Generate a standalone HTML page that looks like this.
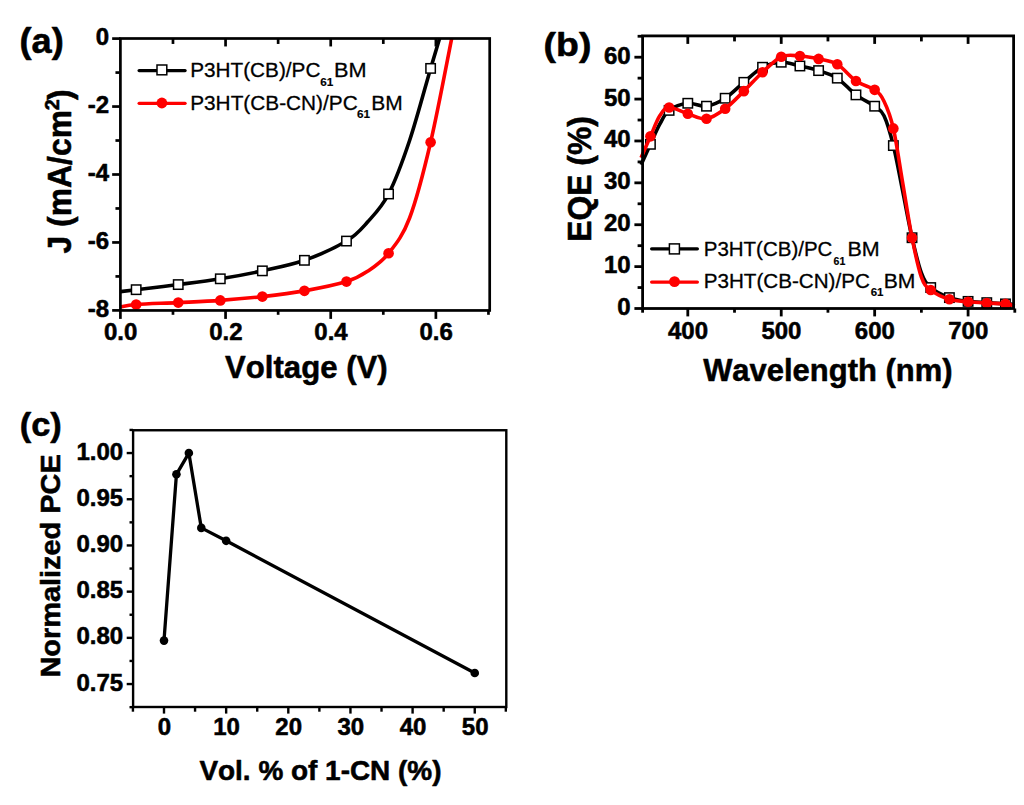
<!DOCTYPE html>
<html><head><meta charset="utf-8"><style>
html,body{margin:0;padding:0;background:#fff;}
body{width:1024px;height:805px;overflow:hidden;}
svg{display:block;font-family:"Liberation Sans", sans-serif;font-kerning:none;}
text{stroke:#000;stroke-width:0.55px;stroke-linejoin:round;}
text[font-weight=normal]{stroke-width:0.3px;}
</style></head><body>
<svg width="1024" height="805" viewBox="0 0 1024 805">
<rect width="1024" height="805" fill="#fff"/>
<path d="M120.40,291.61 C123.03,291.29 126.53,290.85 136.17,289.68 C145.81,288.50 164.22,286.39 178.24,284.58 C192.26,282.77 206.28,281.09 220.30,278.80 C234.32,276.52 248.34,273.93 262.37,270.85 C276.39,267.77 290.41,265.29 304.43,260.32 C318.45,255.35 335.98,247.43 346.49,241.06 C357.01,234.68 360.52,229.91 367.53,222.06 C374.54,214.22 381.55,207.59 388.56,194.00 C395.57,180.41 402.58,161.46 409.59,140.52 C416.60,119.59 425.63,85.38 430.62,68.40 C435.62,51.41 438.07,43.57 439.56,38.60" fill="none" stroke="#000" stroke-width="3.60" stroke-linejoin="round" stroke-linecap="butt"/>
<rect x="131.47" y="284.98" width="9.40" height="9.40" fill="#fff" stroke="#000" stroke-width="1.50"/>
<rect x="173.54" y="279.88" width="9.40" height="9.40" fill="#fff" stroke="#000" stroke-width="1.50"/>
<rect x="215.60" y="274.10" width="9.40" height="9.40" fill="#fff" stroke="#000" stroke-width="1.50"/>
<rect x="257.67" y="266.15" width="9.40" height="9.40" fill="#fff" stroke="#000" stroke-width="1.50"/>
<rect x="299.73" y="255.62" width="9.40" height="9.40" fill="#fff" stroke="#000" stroke-width="1.50"/>
<rect x="341.79" y="236.36" width="9.40" height="9.40" fill="#fff" stroke="#000" stroke-width="1.50"/>
<rect x="383.86" y="189.30" width="9.40" height="9.40" fill="#fff" stroke="#000" stroke-width="1.50"/>
<rect x="425.92" y="63.70" width="9.40" height="9.40" fill="#fff" stroke="#000" stroke-width="1.50"/>
<path d="M120.40,307.00 C123.03,306.58 126.53,305.22 136.17,304.49 C145.81,303.75 164.22,303.27 178.24,302.59 C192.26,301.90 206.28,301.37 220.30,300.38 C234.32,299.38 248.34,298.19 262.37,296.61 C276.39,295.02 290.41,293.37 304.43,290.86 C318.45,288.36 335.98,284.85 346.49,281.59 C357.01,278.33 360.52,276.04 367.53,271.33 C374.54,266.62 381.55,262.21 388.56,253.32 C395.57,244.43 402.58,236.50 409.59,217.99 C416.60,199.47 423.61,172.12 430.62,142.22 C437.63,112.33 448.15,55.87 451.65,38.60" fill="none" stroke="#ff0000" stroke-width="3.60" stroke-linejoin="round" stroke-linecap="butt"/>
<circle cx="136.17" cy="304.49" r="5.30" fill="#ff0000"/>
<circle cx="178.24" cy="302.59" r="5.30" fill="#ff0000"/>
<circle cx="220.30" cy="300.38" r="5.30" fill="#ff0000"/>
<circle cx="262.37" cy="296.61" r="5.30" fill="#ff0000"/>
<circle cx="304.43" cy="290.86" r="5.30" fill="#ff0000"/>
<circle cx="346.49" cy="281.59" r="5.30" fill="#ff0000"/>
<circle cx="388.56" cy="253.32" r="5.30" fill="#ff0000"/>
<circle cx="430.62" cy="142.22" r="5.30" fill="#ff0000"/>
<rect x="120.40" y="38.50" width="369.30" height="271.95" fill="none" stroke="#000" stroke-width="2.70"/>
<line x1="112.15" y1="310.40" x2="120.40" y2="310.40" stroke="#000" stroke-width="2.70"/>
<line x1="115.45" y1="276.42" x2="120.40" y2="276.42" stroke="#000" stroke-width="2.70"/>
<line x1="112.15" y1="242.45" x2="120.40" y2="242.45" stroke="#000" stroke-width="2.70"/>
<line x1="115.45" y1="208.47" x2="120.40" y2="208.47" stroke="#000" stroke-width="2.70"/>
<line x1="112.15" y1="174.50" x2="120.40" y2="174.50" stroke="#000" stroke-width="2.70"/>
<line x1="115.45" y1="140.52" x2="120.40" y2="140.52" stroke="#000" stroke-width="2.70"/>
<line x1="112.15" y1="106.55" x2="120.40" y2="106.55" stroke="#000" stroke-width="2.70"/>
<line x1="115.45" y1="72.57" x2="120.40" y2="72.57" stroke="#000" stroke-width="2.70"/>
<line x1="112.15" y1="38.60" x2="120.40" y2="38.60" stroke="#000" stroke-width="2.70"/>
<line x1="120.40" y1="310.45" x2="120.40" y2="318.90" stroke="#000" stroke-width="2.70"/>
<line x1="172.98" y1="310.45" x2="172.98" y2="314.80" stroke="#000" stroke-width="2.70"/>
<line x1="225.56" y1="310.45" x2="225.56" y2="318.90" stroke="#000" stroke-width="2.70"/>
<line x1="278.14" y1="310.45" x2="278.14" y2="314.80" stroke="#000" stroke-width="2.70"/>
<line x1="330.72" y1="310.45" x2="330.72" y2="318.90" stroke="#000" stroke-width="2.70"/>
<line x1="383.30" y1="310.45" x2="383.30" y2="314.80" stroke="#000" stroke-width="2.70"/>
<line x1="435.88" y1="310.45" x2="435.88" y2="318.90" stroke="#000" stroke-width="2.70"/>
<line x1="488.46" y1="310.45" x2="488.46" y2="314.80" stroke="#000" stroke-width="2.70"/>
<line x1="172.98" y1="38.50" x2="172.98" y2="43.95" stroke="#000" stroke-width="2.70"/>
<line x1="225.56" y1="38.50" x2="225.56" y2="46.45" stroke="#000" stroke-width="2.70"/>
<line x1="278.14" y1="38.50" x2="278.14" y2="43.95" stroke="#000" stroke-width="2.70"/>
<line x1="330.72" y1="38.50" x2="330.72" y2="46.45" stroke="#000" stroke-width="2.70"/>
<line x1="383.30" y1="38.50" x2="383.30" y2="43.95" stroke="#000" stroke-width="2.70"/>
<line x1="435.88" y1="38.50" x2="435.88" y2="46.45" stroke="#000" stroke-width="2.70"/>
<text x="109.20" y="317.20" font-size="24.00" font-weight="bold" text-anchor="end">-8</text>
<text x="109.20" y="249.25" font-size="24.00" font-weight="bold" text-anchor="end">-6</text>
<text x="109.20" y="181.30" font-size="24.00" font-weight="bold" text-anchor="end">-4</text>
<text x="109.20" y="113.35" font-size="24.00" font-weight="bold" text-anchor="end">-2</text>
<text x="109.20" y="45.40" font-size="24.00" font-weight="bold" text-anchor="end">0</text>
<text x="120.70" y="340.40" font-size="24.00" font-weight="bold" text-anchor="middle">0.0</text>
<text x="225.86" y="340.40" font-size="24.00" font-weight="bold" text-anchor="middle">0.2</text>
<text x="331.02" y="340.40" font-size="24.00" font-weight="bold" text-anchor="middle">0.4</text>
<text x="436.18" y="340.40" font-size="24.00" font-weight="bold" text-anchor="middle">0.6</text>
<text x="225.09" y="378.00" font-size="32.00" font-weight="bold" textLength="162.56" lengthAdjust="spacingAndGlyphs">Voltage (V)</text>
<text x="-253.48" y="0.00" font-size="32.50" font-weight="bold" textLength="143.46" lengthAdjust="spacingAndGlyphs" transform="translate(70.50,0) rotate(-90)">J (mA/cm</text>
<text x="-110.19" y="0.00" font-size="19.50" font-weight="bold" textLength="11.09" lengthAdjust="spacingAndGlyphs" transform="translate(58.6,0) rotate(-90)">2</text>
<text x="-99.93" y="0.00" font-size="33.00" font-weight="bold" textLength="10.62" lengthAdjust="spacingAndGlyphs" transform="translate(71.0,0) rotate(-90)">)</text>
<text x="19.45" y="52.90" font-size="34.20" font-weight="bold" textLength="44.26" lengthAdjust="spacingAndGlyphs">(a)</text>
<path d="M139.1,70.6 L185.1,70.6" fill="none" stroke="#000" stroke-width="3.20" stroke-linejoin="round" stroke-linecap="round"/>
<rect x="157.00" y="65.00" width="9.80" height="9.80" fill="#fff" stroke="#000" stroke-width="1.50"/>
<path d="M139.1,103.3 L185.1,103.3" fill="none" stroke="#ff0000" stroke-width="3.20" stroke-linejoin="round" stroke-linecap="round"/>
<circle cx="161.90" cy="103.00" r="5.40" fill="#ff0000"/>
<text x="190.20" y="77.10" font-size="20.70" font-weight="normal" textLength="130.19" lengthAdjust="spacingAndGlyphs">P3HT(CB)/PC</text>
<text x="320.27" y="85.70" font-size="10.80" font-weight="bold" textLength="13.06" lengthAdjust="spacingAndGlyphs" style="stroke-width:0.15px">61</text>
<text x="333.92" y="77.10" font-size="20.70" font-weight="normal" textLength="32.56" lengthAdjust="spacingAndGlyphs">BM</text>
<text x="190.19" y="109.70" font-size="20.70" font-weight="normal" textLength="167.50" lengthAdjust="spacingAndGlyphs">P3HT(CB-CN)/PC</text>
<text x="357.07" y="118.30" font-size="10.80" font-weight="bold" textLength="13.06" lengthAdjust="spacingAndGlyphs" style="stroke-width:0.15px">61</text>
<text x="371.28" y="109.70" font-size="20.70" font-weight="normal" textLength="31.44" lengthAdjust="spacingAndGlyphs">BM</text>
<path d="M641.08,164.84 C642.64,161.42 647.31,151.09 650.43,144.32 C653.54,137.55 656.66,129.87 659.77,124.21 C662.89,118.56 664.44,113.88 669.11,110.39 C673.79,106.90 681.57,103.97 687.80,103.27 C694.03,102.57 700.26,107.04 706.49,106.20 C712.71,105.37 718.94,102.22 725.17,98.25 C731.40,94.27 737.63,87.50 743.86,82.33 C750.09,77.16 756.32,70.60 762.54,67.25 C768.77,63.90 775.00,62.44 781.23,62.23 C787.46,62.02 793.69,64.60 799.92,66.00 C806.14,67.39 812.37,68.58 818.60,70.60 C824.83,72.63 831.06,74.09 837.29,78.14 C843.52,82.19 849.75,90.22 855.97,94.89 C862.20,99.57 869.99,102.71 874.66,106.20 C879.33,109.69 880.89,109.27 884.00,115.84 C887.12,122.40 890.23,133.01 893.35,145.57 C896.46,158.14 899.57,175.87 902.69,191.23 C905.80,206.58 908.92,224.11 912.03,237.72 C915.15,251.33 918.26,264.59 921.38,272.90 C924.49,281.21 926.05,283.44 930.72,287.56 C935.39,291.68 943.18,295.31 949.40,297.61 C955.63,299.91 961.86,300.54 968.09,301.38 C974.32,302.22 980.55,302.22 986.78,302.64 C993.00,303.06 1000.79,303.61 1005.46,303.89 C1010.13,304.17 1013.25,304.24 1014.80,304.31" fill="none" stroke="#000" stroke-width="3.60" stroke-linejoin="round" stroke-linecap="butt"/>
<rect x="645.73" y="139.62" width="9.40" height="9.40" fill="#fff" stroke="#000" stroke-width="1.50"/>
<rect x="664.41" y="105.69" width="9.40" height="9.40" fill="#fff" stroke="#000" stroke-width="1.50"/>
<rect x="683.10" y="98.57" width="9.40" height="9.40" fill="#fff" stroke="#000" stroke-width="1.50"/>
<rect x="701.79" y="101.50" width="9.40" height="9.40" fill="#fff" stroke="#000" stroke-width="1.50"/>
<rect x="720.47" y="93.55" width="9.40" height="9.40" fill="#fff" stroke="#000" stroke-width="1.50"/>
<rect x="739.16" y="77.63" width="9.40" height="9.40" fill="#fff" stroke="#000" stroke-width="1.50"/>
<rect x="757.84" y="62.55" width="9.40" height="9.40" fill="#fff" stroke="#000" stroke-width="1.50"/>
<rect x="776.53" y="57.53" width="9.40" height="9.40" fill="#fff" stroke="#000" stroke-width="1.50"/>
<rect x="795.22" y="61.30" width="9.40" height="9.40" fill="#fff" stroke="#000" stroke-width="1.50"/>
<rect x="813.90" y="65.90" width="9.40" height="9.40" fill="#fff" stroke="#000" stroke-width="1.50"/>
<rect x="832.59" y="73.44" width="9.40" height="9.40" fill="#fff" stroke="#000" stroke-width="1.50"/>
<rect x="851.27" y="90.19" width="9.40" height="9.40" fill="#fff" stroke="#000" stroke-width="1.50"/>
<rect x="869.96" y="101.50" width="9.40" height="9.40" fill="#fff" stroke="#000" stroke-width="1.50"/>
<rect x="888.65" y="140.87" width="9.40" height="9.40" fill="#fff" stroke="#000" stroke-width="1.50"/>
<rect x="907.33" y="233.02" width="9.40" height="9.40" fill="#fff" stroke="#000" stroke-width="1.50"/>
<rect x="926.02" y="282.86" width="9.40" height="9.40" fill="#fff" stroke="#000" stroke-width="1.50"/>
<rect x="944.70" y="292.91" width="9.40" height="9.40" fill="#fff" stroke="#000" stroke-width="1.50"/>
<rect x="963.39" y="296.68" width="9.40" height="9.40" fill="#fff" stroke="#000" stroke-width="1.50"/>
<rect x="982.08" y="297.94" width="9.40" height="9.40" fill="#fff" stroke="#000" stroke-width="1.50"/>
<rect x="1000.76" y="299.19" width="9.40" height="9.40" fill="#fff" stroke="#000" stroke-width="1.50"/>
<path d="M641.08,157.72 C642.64,154.16 647.31,143.34 650.43,136.36 C653.54,129.38 656.66,120.65 659.77,115.84 C662.89,111.02 664.44,107.81 669.11,107.46 C673.79,107.11 681.57,111.86 687.80,113.74 C694.03,115.63 700.26,119.61 706.49,118.77 C712.71,117.93 718.94,113.32 725.17,108.72 C731.40,104.11 737.63,97.20 743.86,91.13 C750.09,85.05 756.32,78.00 762.54,72.28 C768.77,66.55 775.00,59.50 781.23,56.78 C787.46,54.06 793.69,55.59 799.92,55.94 C806.14,56.29 812.37,57.48 818.60,58.88 C824.83,60.27 831.06,60.62 837.29,64.32 C843.52,68.02 849.75,76.82 855.97,81.07 C862.20,85.33 869.99,86.52 874.66,89.87 C879.33,93.22 880.89,94.76 884.00,101.18 C887.12,107.60 890.23,114.79 893.35,128.40 C896.46,142.01 899.57,164.63 902.69,182.85 C905.80,201.07 908.92,222.01 912.03,237.72 C915.15,253.42 918.26,268.36 921.38,277.09 C924.49,285.81 926.05,286.37 930.72,290.07 C935.39,293.77 943.18,297.33 949.40,299.29 C955.63,301.24 961.86,301.17 968.09,301.80 C974.32,302.43 980.55,302.71 986.78,303.06 C993.00,303.40 1000.79,303.40 1005.46,303.89 C1010.13,304.38 1013.25,305.64 1014.80,305.99" fill="none" stroke="#ff0000" stroke-width="3.60" stroke-linejoin="round" stroke-linecap="butt"/>
<circle cx="650.43" cy="136.36" r="5.30" fill="#ff0000"/>
<circle cx="669.11" cy="107.46" r="5.30" fill="#ff0000"/>
<circle cx="687.80" cy="113.74" r="5.30" fill="#ff0000"/>
<circle cx="706.49" cy="118.77" r="5.30" fill="#ff0000"/>
<circle cx="725.17" cy="108.72" r="5.30" fill="#ff0000"/>
<circle cx="743.86" cy="91.13" r="5.30" fill="#ff0000"/>
<circle cx="762.54" cy="72.28" r="5.30" fill="#ff0000"/>
<circle cx="781.23" cy="56.78" r="5.30" fill="#ff0000"/>
<circle cx="799.92" cy="55.94" r="5.30" fill="#ff0000"/>
<circle cx="818.60" cy="58.88" r="5.30" fill="#ff0000"/>
<circle cx="837.29" cy="64.32" r="5.30" fill="#ff0000"/>
<circle cx="855.97" cy="81.07" r="5.30" fill="#ff0000"/>
<circle cx="874.66" cy="89.87" r="5.30" fill="#ff0000"/>
<circle cx="893.35" cy="128.40" r="5.30" fill="#ff0000"/>
<circle cx="912.03" cy="237.72" r="5.30" fill="#ff0000"/>
<circle cx="930.72" cy="290.07" r="5.30" fill="#ff0000"/>
<circle cx="949.40" cy="299.29" r="5.30" fill="#ff0000"/>
<circle cx="968.09" cy="301.80" r="5.30" fill="#ff0000"/>
<circle cx="986.78" cy="303.06" r="5.30" fill="#ff0000"/>
<circle cx="1005.46" cy="303.89" r="5.30" fill="#ff0000"/>
<rect x="642.60" y="35.90" width="371.00" height="272.60" fill="none" stroke="#000" stroke-width="2.80"/>
<line x1="634.40" y1="308.50" x2="642.60" y2="308.50" stroke="#000" stroke-width="2.80"/>
<line x1="637.60" y1="287.56" x2="642.60" y2="287.56" stroke="#000" stroke-width="2.80"/>
<line x1="634.40" y1="266.62" x2="642.60" y2="266.62" stroke="#000" stroke-width="2.80"/>
<line x1="637.60" y1="245.68" x2="642.60" y2="245.68" stroke="#000" stroke-width="2.80"/>
<line x1="634.40" y1="224.73" x2="642.60" y2="224.73" stroke="#000" stroke-width="2.80"/>
<line x1="637.60" y1="203.79" x2="642.60" y2="203.79" stroke="#000" stroke-width="2.80"/>
<line x1="634.40" y1="182.85" x2="642.60" y2="182.85" stroke="#000" stroke-width="2.80"/>
<line x1="637.60" y1="161.91" x2="642.60" y2="161.91" stroke="#000" stroke-width="2.80"/>
<line x1="634.40" y1="140.97" x2="642.60" y2="140.97" stroke="#000" stroke-width="2.80"/>
<line x1="637.60" y1="120.03" x2="642.60" y2="120.03" stroke="#000" stroke-width="2.80"/>
<line x1="634.40" y1="99.08" x2="642.60" y2="99.08" stroke="#000" stroke-width="2.80"/>
<line x1="637.60" y1="78.14" x2="642.60" y2="78.14" stroke="#000" stroke-width="2.80"/>
<line x1="634.40" y1="57.20" x2="642.60" y2="57.20" stroke="#000" stroke-width="2.80"/>
<line x1="637.60" y1="36.26" x2="642.60" y2="36.26" stroke="#000" stroke-width="2.80"/>
<line x1="642.60" y1="308.50" x2="642.60" y2="312.70" stroke="#000" stroke-width="2.80"/>
<line x1="687.80" y1="308.50" x2="687.80" y2="316.40" stroke="#000" stroke-width="2.80"/>
<line x1="734.51" y1="308.50" x2="734.51" y2="312.70" stroke="#000" stroke-width="2.80"/>
<line x1="781.23" y1="308.50" x2="781.23" y2="316.40" stroke="#000" stroke-width="2.80"/>
<line x1="827.94" y1="308.50" x2="827.94" y2="312.70" stroke="#000" stroke-width="2.80"/>
<line x1="874.66" y1="308.50" x2="874.66" y2="316.40" stroke="#000" stroke-width="2.80"/>
<line x1="921.38" y1="308.50" x2="921.38" y2="312.70" stroke="#000" stroke-width="2.80"/>
<line x1="968.09" y1="308.50" x2="968.09" y2="316.40" stroke="#000" stroke-width="2.80"/>
<line x1="1014.80" y1="308.50" x2="1014.80" y2="312.70" stroke="#000" stroke-width="2.80"/>
<line x1="687.80" y1="35.90" x2="687.80" y2="43.90" stroke="#000" stroke-width="2.80"/>
<line x1="734.51" y1="35.90" x2="734.51" y2="41.40" stroke="#000" stroke-width="2.80"/>
<line x1="781.23" y1="35.90" x2="781.23" y2="43.90" stroke="#000" stroke-width="2.80"/>
<line x1="827.94" y1="35.90" x2="827.94" y2="41.40" stroke="#000" stroke-width="2.80"/>
<line x1="874.66" y1="35.90" x2="874.66" y2="43.90" stroke="#000" stroke-width="2.80"/>
<line x1="921.38" y1="35.90" x2="921.38" y2="41.40" stroke="#000" stroke-width="2.80"/>
<line x1="968.09" y1="35.90" x2="968.09" y2="43.90" stroke="#000" stroke-width="2.80"/>
<text x="630.70" y="315.00" font-size="24.00" font-weight="bold" text-anchor="end">0</text>
<text x="630.70" y="273.12" font-size="24.00" font-weight="bold" text-anchor="end">10</text>
<text x="630.70" y="231.23" font-size="24.00" font-weight="bold" text-anchor="end">20</text>
<text x="630.70" y="189.35" font-size="24.00" font-weight="bold" text-anchor="end">30</text>
<text x="630.70" y="147.47" font-size="24.00" font-weight="bold" text-anchor="end">40</text>
<text x="630.70" y="105.58" font-size="24.00" font-weight="bold" text-anchor="end">50</text>
<text x="630.70" y="63.70" font-size="24.00" font-weight="bold" text-anchor="end">60</text>
<text x="688.00" y="338.80" font-size="24.00" font-weight="bold" text-anchor="middle">400</text>
<text x="781.43" y="338.80" font-size="24.00" font-weight="bold" text-anchor="middle">500</text>
<text x="874.86" y="338.80" font-size="24.00" font-weight="bold" text-anchor="middle">600</text>
<text x="968.29" y="338.80" font-size="24.00" font-weight="bold" text-anchor="middle">700</text>
<text x="703.17" y="380.60" font-size="31.50" font-weight="bold" textLength="249.37" lengthAdjust="spacingAndGlyphs">Wavelength (nm)</text>
<text x="-241.73" y="0.00" font-size="32.50" font-weight="bold" textLength="125.51" lengthAdjust="spacingAndGlyphs" transform="translate(590.70,0) rotate(-90)">EQE (%)</text>
<text x="543.64" y="55.60" font-size="33.40" font-weight="bold" textLength="47.72" lengthAdjust="spacingAndGlyphs">(b)</text>
<path d="M651.6,248.8 L697.4,248.8" fill="none" stroke="#000" stroke-width="3.20" stroke-linejoin="round" stroke-linecap="round"/>
<rect x="669.40" y="243.90" width="10.00" height="10.00" fill="#fff" stroke="#000" stroke-width="1.50"/>
<path d="M651.6,282.1 L697.4,282.1" fill="none" stroke="#ff0000" stroke-width="3.20" stroke-linejoin="round" stroke-linecap="round"/>
<circle cx="674.50" cy="281.60" r="5.40" fill="#ff0000"/>
<text x="703.72" y="256.10" font-size="20.70" font-weight="normal" textLength="128.66" lengthAdjust="spacingAndGlyphs">P3HT(CB)/PC</text>
<text x="833.61" y="264.70" font-size="10.80" font-weight="bold" textLength="11.78" lengthAdjust="spacingAndGlyphs" style="stroke-width:0.15px">61</text>
<text x="847.44" y="256.10" font-size="20.70" font-weight="normal" textLength="32.22" lengthAdjust="spacingAndGlyphs">BM</text>
<text x="703.71" y="287.70" font-size="20.70" font-weight="normal" textLength="166.18" lengthAdjust="spacingAndGlyphs">P3HT(CB-CN)/PC</text>
<text x="870.68" y="296.30" font-size="10.80" font-weight="bold" textLength="12.84" lengthAdjust="spacingAndGlyphs" style="stroke-width:0.15px">61</text>
<text x="883.77" y="287.70" font-size="20.70" font-weight="normal" textLength="31.66" lengthAdjust="spacingAndGlyphs">BM</text>
<path d="M164.00,640.62 L176.43,474.30 L188.86,453.05 L201.29,527.89 L226.15,540.83 L474.75,672.96" fill="none" stroke="#000" stroke-width="3.30" stroke-linejoin="round" stroke-linecap="butt"/>
<circle cx="164.00" cy="640.62" r="4.30" fill="#000"/>
<circle cx="176.43" cy="474.30" r="4.30" fill="#000"/>
<circle cx="188.86" cy="453.05" r="4.30" fill="#000"/>
<circle cx="201.29" cy="527.89" r="4.30" fill="#000"/>
<circle cx="226.15" cy="540.83" r="4.30" fill="#000"/>
<circle cx="474.75" cy="672.96" r="4.30" fill="#000"/>
<rect x="133.10" y="430.25" width="373.20" height="276.75" fill="none" stroke="#000" stroke-width="2.40"/>
<line x1="129.50" y1="707.15" x2="133.10" y2="707.15" stroke="#000" stroke-width="2.40"/>
<line x1="126.70" y1="684.05" x2="133.10" y2="684.05" stroke="#000" stroke-width="2.40"/>
<line x1="129.50" y1="660.95" x2="133.10" y2="660.95" stroke="#000" stroke-width="2.40"/>
<line x1="126.70" y1="637.85" x2="133.10" y2="637.85" stroke="#000" stroke-width="2.40"/>
<line x1="129.50" y1="614.75" x2="133.10" y2="614.75" stroke="#000" stroke-width="2.40"/>
<line x1="126.70" y1="591.65" x2="133.10" y2="591.65" stroke="#000" stroke-width="2.40"/>
<line x1="129.50" y1="568.55" x2="133.10" y2="568.55" stroke="#000" stroke-width="2.40"/>
<line x1="126.70" y1="545.45" x2="133.10" y2="545.45" stroke="#000" stroke-width="2.40"/>
<line x1="129.50" y1="522.35" x2="133.10" y2="522.35" stroke="#000" stroke-width="2.40"/>
<line x1="126.70" y1="499.25" x2="133.10" y2="499.25" stroke="#000" stroke-width="2.40"/>
<line x1="129.50" y1="476.15" x2="133.10" y2="476.15" stroke="#000" stroke-width="2.40"/>
<line x1="126.70" y1="453.05" x2="133.10" y2="453.05" stroke="#000" stroke-width="2.40"/>
<line x1="129.50" y1="429.95" x2="133.10" y2="429.95" stroke="#000" stroke-width="2.40"/>
<line x1="132.93" y1="707.00" x2="132.93" y2="711.70" stroke="#000" stroke-width="2.40"/>
<line x1="164.00" y1="707.00" x2="164.00" y2="713.60" stroke="#000" stroke-width="2.40"/>
<line x1="195.07" y1="707.00" x2="195.07" y2="711.70" stroke="#000" stroke-width="2.40"/>
<line x1="226.15" y1="707.00" x2="226.15" y2="713.60" stroke="#000" stroke-width="2.40"/>
<line x1="257.23" y1="707.00" x2="257.23" y2="711.70" stroke="#000" stroke-width="2.40"/>
<line x1="288.30" y1="707.00" x2="288.30" y2="713.60" stroke="#000" stroke-width="2.40"/>
<line x1="319.38" y1="707.00" x2="319.38" y2="711.70" stroke="#000" stroke-width="2.40"/>
<line x1="350.45" y1="707.00" x2="350.45" y2="713.60" stroke="#000" stroke-width="2.40"/>
<line x1="381.52" y1="707.00" x2="381.52" y2="711.70" stroke="#000" stroke-width="2.40"/>
<line x1="412.60" y1="707.00" x2="412.60" y2="713.60" stroke="#000" stroke-width="2.40"/>
<line x1="443.68" y1="707.00" x2="443.68" y2="711.70" stroke="#000" stroke-width="2.40"/>
<line x1="474.75" y1="707.00" x2="474.75" y2="713.60" stroke="#000" stroke-width="2.40"/>
<line x1="505.82" y1="707.00" x2="505.82" y2="711.70" stroke="#000" stroke-width="2.40"/>
<text x="123.20" y="690.55" font-size="24.00" font-weight="bold" text-anchor="end">0.75</text>
<text x="123.20" y="644.35" font-size="24.00" font-weight="bold" text-anchor="end">0.80</text>
<text x="123.20" y="598.15" font-size="24.00" font-weight="bold" text-anchor="end">0.85</text>
<text x="123.20" y="551.95" font-size="24.00" font-weight="bold" text-anchor="end">0.90</text>
<text x="123.20" y="505.75" font-size="24.00" font-weight="bold" text-anchor="end">0.95</text>
<text x="123.20" y="459.55" font-size="24.00" font-weight="bold" text-anchor="end">1.00</text>
<text x="164.40" y="734.70" font-size="24.00" font-weight="bold" text-anchor="middle">0</text>
<text x="226.55" y="734.70" font-size="24.00" font-weight="bold" text-anchor="middle">10</text>
<text x="288.70" y="734.70" font-size="24.00" font-weight="bold" text-anchor="middle">20</text>
<text x="350.85" y="734.70" font-size="24.00" font-weight="bold" text-anchor="middle">30</text>
<text x="413.00" y="734.70" font-size="24.00" font-weight="bold" text-anchor="middle">40</text>
<text x="475.15" y="734.70" font-size="24.00" font-weight="bold" text-anchor="middle">50</text>
<text x="199.41" y="779.90" font-size="28.00" font-weight="bold" textLength="242.08" lengthAdjust="spacingAndGlyphs">Vol. % of 1-CN (%)</text>
<text x="-677.63" y="0.00" font-size="28.50" font-weight="bold" textLength="223.36" lengthAdjust="spacingAndGlyphs" transform="translate(59.90,0) rotate(-90)">Normalized PCE</text>
<text x="19.68" y="436.25" font-size="33.00" font-weight="bold" textLength="42.13" lengthAdjust="spacingAndGlyphs">(c)</text>
</svg>
</body></html>
